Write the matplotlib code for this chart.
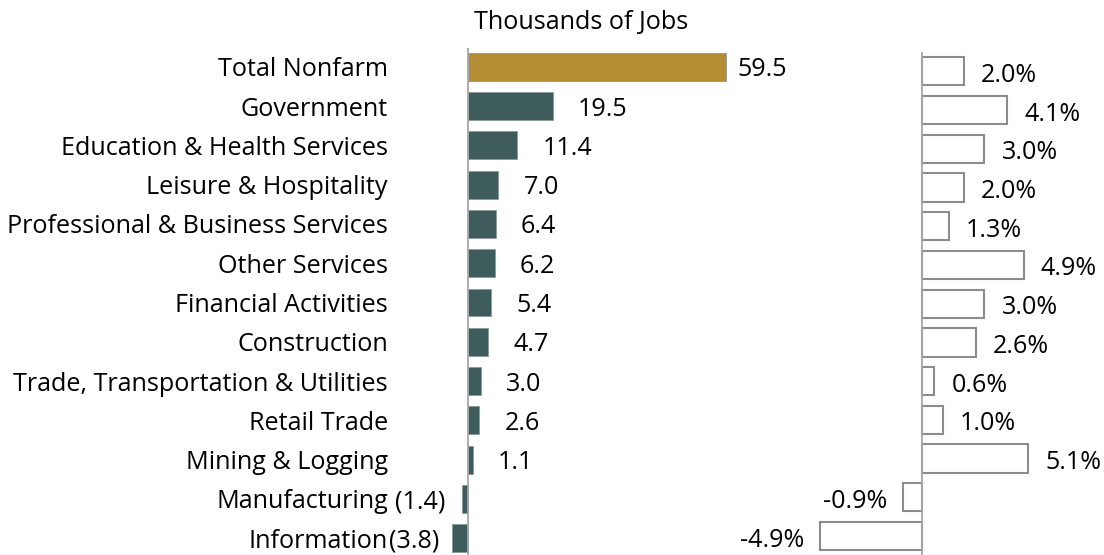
import matplotlib
matplotlib.use('Agg')
import matplotlib.pyplot as plt

# ------ Data ------
categories = ['Total Nonfarm', 'Government', 'Education & Health Services',
              'Leisure & Hospitality', 'Professional & Business Services',
              'Other Services', 'Financial Activities', 'Construction',
              'Trade, Transportation & Utilities', 'Retail Trade',
              'Mining & Logging', 'Manufacturing', 'Information']
jobs = [59.5, 19.5, 11.4, 7.0, 6.4, 6.2, 5.4, 4.7, 3.0, 2.6, 1.1, -1.4, -3.8]
pct = [2.0, 4.1, 3.0, 2.0, 1.3, 4.9, 3.0, 2.6, 0.6, 1.0, 5.1, -0.9, -4.9]

plt.rcParams['font.family'] = ['Open Sans', 'DejaVu Sans']
plt.rcParams['font.size'] = 18.1

W, H = 1104, 555
fig = plt.figure(figsize=(W / 100, H / 100), dpi=100)

def px_axes(x0, x1, y0, y1):
    # axes from pixel box (y measured from top)
    return fig.add_axes([x0 / W, 1 - y1 / H, (x1 - x0) / W, (y1 - y0) / H])

# ------ Left panel: thousands of jobs ------
ax = px_axes(440, 800, 48, 555)
zero, scale = 468, 4.34
ax.set_xlim((440 - zero) / scale, (800 - zero) / scale)
ax.set_ylim(12.43, -0.48)
colors = ['#B38C33'] + ['#3E5C5C'] * (len(jobs) - 1)
y = list(range(len(jobs)))
ax.barh(y, jobs, height=0.71, color=colors, edgecolor='#8a9a9a', linewidth=0.6, zorder=2)
ax.axvline(0, color='#a6a6a6', lw=1.3, zorder=3)

for i, (cat, v) in enumerate(zip(categories, jobs)):
    ax.annotate(cat, xy=(0, i), xytext=(-80, -3), textcoords='offset pixels',
                ha='right', va='center', annotation_clip=False)
    if v >= 0:
        off = 11 if i == 0 else 25
        ax.annotate(f'{v:.1f}', xy=(v, i), xytext=(off, -3), textcoords='offset pixels',
                    ha='left', va='center')
    else:
        off = -17 if i == 11 else -12
        ax.annotate(f'({abs(v):.1f})', xy=(v, i), xytext=(off, -3), textcoords='offset pixels',
                    ha='right', va='center')
ax.axis('off')

fig.text(581 / W, 1 - 23 / H, 'Thousands of Jobs', ha='center', va='center')

# ------ Right panel: percent change ------
ax2 = px_axes(790, 1104, 52, 555)
zero2, scale2 = 922, 20.8
ax2.set_xlim((790 - zero2) / scale2, (1104 - zero2) / scale2)
ax2.set_ylim(12.49, -0.5)
ax2.barh(y, pct, height=0.73, color='white', edgecolor='#8c8c8c', linewidth=1.5, zorder=2)
ax2.axvline(0, color='#a6a6a6', lw=1.3, zorder=3)
for i, v in enumerate(pct):
    if v >= 0:
        ax2.annotate(f'{v:.1f}%', xy=(v, i), xytext=(17, -4), textcoords='offset pixels',
                     ha='left', va='center')
    else:
        ax2.annotate(f'{v:.1f}%', xy=(v, i), xytext=(-16, -4), textcoords='offset pixels',
                     ha='right', va='center')
ax2.axis('off')

fig.savefig('out.png', dpi=100)
